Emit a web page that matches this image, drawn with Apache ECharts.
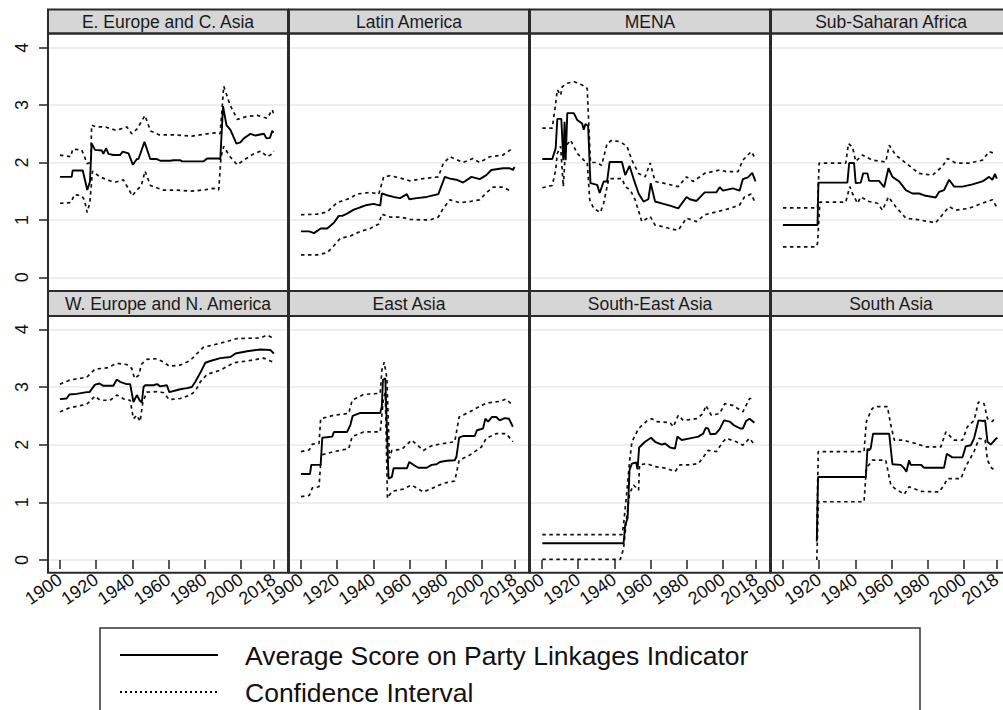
<!DOCTYPE html>
<html>
<head>
<meta charset="utf-8">
<script src="https://cdn.jsdelivr.net/npm/echarts@6/dist/echarts.min.js"></script>
<style>
html,body{margin:0;padding:0;background:#fff;overflow:hidden;}
#chart{width:1012px;height:710px;}
</style>
</head>
<body>
<div id="chart"></div>
<script>
const regions = ['E. Europe and C. Asia','Latin America','MENA','Sub-Saharan Africa','W. Europe and N. America','East Asia','South-East Asia','South Asia'];
const xTicks = [1900,1920,1940,1960,1980,2000,2018];
const yTicks = [0,1,2,3,4];
const legendNames = ['Average Score on Party Linkages Indicator','Confidence Interval'];

// E. Europe and C. Asia
const eeMean = [[1900,1.75],[1906.5,1.75],[1907,1.86],[1912.6,1.86],[1915.1,1.52],[1916.6,1.67],[1917.5,2.33],[1919.4,2.22],[1923.1,2.21],[1924,2.15],[1925.5,2.25],[1926.8,2.15],[1929.5,2.13],[1933.2,2.13],[1934.7,2.19],[1937.9,2.16],[1940.3,1.96],[1942.5,2.06],[1943.4,2.06],[1946.7,2.36],[1949.9,2.06],[1953.6,2.06],[1955.4,2.03],[1960.9,2.03],[1962.8,2.04],[1966.5,2.04],[1967.4,2.02],[1979.4,2.02],[1981.3,2.07],[1987.7,2.07],[1988.6,2.06],[1990.1,2.98],[1992,2.65],[1994.2,2.57],[1997.5,2.33],[1999.7,2.35],[2001.6,2.42],[2005.3,2.5],[2008,2.47],[2012.7,2.5],[2014.1,2.42],[2016,2.43],[2017.3,2.55],[2018,2.52]];
const eeUpper = [[1900,2.13],[1906,2.1],[1907,2.23],[1912,2.22],[1913,2.15],[1915,1.98],[1917,2.0],[1917.5,2.65],[1920,2.62],[1925,2.62],[1931,2.56],[1937,2.62],[1939.7,2.5],[1942.5,2.58],[1947,2.82],[1950,2.55],[1955,2.48],[1964,2.48],[1973,2.46],[1981,2.5],[1987,2.52],[1988.5,2.5],[1990.5,3.33],[1994,3.0],[1998,2.75],[2003,2.8],[2009,2.82],[2014.5,2.77],[2017.3,2.92],[2018,2.85]];
const eeLower = [[1900,1.29],[1906,1.3],[1908,1.44],[1912,1.42],[1913.5,1.35],[1915,1.13],[1916.5,1.3],[1918,1.85],[1922,1.75],[1927.7,1.68],[1931,1.66],[1935,1.7],[1940,1.42],[1942.5,1.52],[1945,1.6],[1947,1.85],[1950,1.6],[1957,1.52],[1964,1.52],[1972,1.5],[1979,1.52],[1985,1.55],[1987.7,1.52],[1989,2.1],[1990.5,2.28],[1994,2.1],[1998,1.96],[2002,2.05],[2007,2.15],[2011,2.2],[2014.5,2.1],[2017.3,2.15],[2018,2.2]];

// Latin America
const laMean = [[1900,0.8],[1904.5,0.8],[1907.2,0.77],[1910.9,0.85],[1914.5,0.85],[1918.2,0.95],[1920.9,1.07],[1922.8,1.07],[1925.5,1.11],[1929.2,1.18],[1932.8,1.22],[1936.5,1.26],[1940.2,1.28],[1943.8,1.25],[1944.7,1.46],[1947.5,1.43],[1951.2,1.4],[1954.8,1.38],[1958.5,1.45],[1959.9,1.36],[1964,1.38],[1969.5,1.4],[1975.9,1.45],[1979.5,1.75],[1982.3,1.72],[1985.9,1.7],[1989.6,1.65],[1994.2,1.75],[1998.8,1.71],[2002.4,1.78],[2005.2,1.87],[2011.6,1.9],[2015.3,1.9],[2017.1,1.87],[2018,1.92]];
const laUpper = [[1900,1.09],[1909,1.1],[1914.5,1.14],[1920,1.3],[1927.3,1.38],[1931,1.45],[1938.3,1.48],[1943,1.45],[1945.7,1.75],[1949.3,1.77],[1954.8,1.73],[1960.3,1.68],[1967.6,1.72],[1975.9,1.75],[1978.6,1.98],[1982.3,2.1],[1989.6,2.0],[1995,2.07],[1998.7,2.0],[2004.3,2.1],[2011.6,2.13],[2017.1,2.25]];
const laLower = [[1900,0.39],[1909,0.39],[1914.5,0.43],[1918.2,0.55],[1921.8,0.68],[1927.3,0.72],[1932.8,0.8],[1938.3,0.85],[1943,0.93],[1944.7,1.1],[1949.3,1.05],[1954.8,1.05],[1960.3,1.01],[1965.8,1.0],[1971.3,1.0],[1975.9,1.05],[1978.6,1.2],[1982.3,1.35],[1987.8,1.3],[1993.3,1.32],[1998.7,1.35],[2002.4,1.47],[2006.1,1.57],[2011.6,1.57],[2016.2,1.5]];

// MENA
const menaMean = [[1900.2,2.06],[1905.7,2.06],[1907.6,2.25],[1908.5,2.76],[1910.7,2.76],[1911.8,2.04],[1912.5,2.71],[1913.1,2.04],[1914,2.86],[1917.6,2.86],[1919.5,2.74],[1922.2,2.68],[1923.1,2.57],[1924,2.67],[1925.5,2.64],[1926.8,1.64],[1930.5,1.61],[1931.9,1.47],[1934.1,1.67],[1936,1.67],[1937.4,2.01],[1944.2,2.01],[1946,1.78],[1948.4,1.94],[1950.6,1.72],[1953.4,1.46],[1956.1,1.32],[1958.8,1.36],[1960.1,1.64],[1962.5,1.32],[1967.1,1.28],[1970.7,1.25],[1975.3,1.2],[1979.9,1.4],[1981.7,1.36],[1985.4,1.33],[1989.9,1.48],[1996.4,1.48],[1998.2,1.57],[2000,1.51],[2005.5,1.55],[2009.2,1.51],[2011,1.71],[2013.8,1.74],[2016.2,1.82],[2018,1.67]];
const menaUpper = [[1900.2,2.6],[1905.7,2.6],[1907.6,3.03],[1908.5,3.27],[1910.3,3.17],[1911.2,3.32],[1914,3.38],[1917.6,3.41],[1922.2,3.35],[1925,3.29],[1926.8,2.0],[1930,2.0],[1933,1.95],[1936,2.33],[1938.7,2.39],[1943.3,2.36],[1947,2.28],[1949.7,2.04],[1953.4,1.81],[1957,1.75],[1959.8,1.99],[1962.5,1.67],[1967.1,1.64],[1975.3,1.58],[1979.9,1.75],[1983.6,1.67],[1989.9,1.81],[1998.2,1.87],[2001.9,1.84],[2008.3,1.84],[2011,2.04],[2015.6,2.19],[2018,2.07]];
const menaLower = [[1900.2,1.56],[1905.7,1.6],[1907.6,1.87],[1908.5,2.16],[1910.3,2.28],[1911.8,1.58],[1913.1,2.28],[1915.8,2.39],[1919.5,2.16],[1923.1,2.04],[1925,2.01],[1926.4,1.35],[1928.6,1.2],[1932.3,1.13],[1934.1,1.29],[1936.9,1.72],[1944.2,1.72],[1946,1.58],[1948.8,1.52],[1951.5,1.35],[1955.2,0.97],[1959.8,1.06],[1962.5,0.91],[1967.1,0.88],[1971.6,0.84],[1975.3,0.82],[1979.9,1.03],[1985.4,0.97],[1989.9,1.09],[1996.4,1.14],[2003.7,1.2],[2009.2,1.26],[2011.9,1.4],[2015.6,1.45],[2018,1.29]];

// Sub-Saharan Africa
const ssaMean = [[1900,0.91],[1919.1,0.91],[1919.6,1.65],[1935.6,1.65],[1936.6,1.99],[1939.3,1.99],[1940.2,1.64],[1943,1.65],[1944.3,1.81],[1946.7,1.81],[1947.6,1.68],[1953.1,1.68],[1955.9,1.57],[1958.3,1.9],[1960.5,1.75],[1964.2,1.67],[1967.9,1.52],[1971.5,1.46],[1975.2,1.46],[1978.9,1.42],[1984.4,1.39],[1986.3,1.49],[1989,1.52],[1991.8,1.7],[1994.6,1.58],[1999.2,1.58],[2004.7,1.62],[2010.2,1.67],[2013.9,1.75],[2015.7,1.7],[2017.2,1.8],[2018.1,1.72]];
const ssaUpper = [[1900,1.21],[1919.1,1.21],[1920,1.99],[1934.7,1.99],[1936.2,2.33],[1938.4,2.27],[1940.2,2.02],[1943.9,2.13],[1949.4,2.04],[1956.8,2.01],[1958.7,2.3],[1962.3,2.13],[1967.9,1.99],[1975.2,1.81],[1982.6,1.78],[1988.1,1.93],[1990.9,2.07],[1995.5,1.99],[2002.8,1.99],[2010.2,2.04],[2013.9,2.19],[2017.6,2.15]];
const ssaLower = [[1900,0.53],[1918.2,0.53],[1919.1,0.59],[1920.4,1.31],[1934.7,1.31],[1936.9,1.58],[1938.4,1.46],[1941.2,1.29],[1943,1.4],[1947.6,1.32],[1952.2,1.29],[1955,1.17],[1958.3,1.4],[1962.3,1.23],[1967.9,1.03],[1975.2,1.0],[1984.4,0.95],[1988.1,1.09],[1991.8,1.23],[1995.5,1.17],[2002.8,1.2],[2010.2,1.29],[2015.7,1.35],[2018,1.23]];

// W. Europe and N. America
const weMean = [[1900,2.79],[1903.7,2.8],[1905.2,2.87],[1909.2,2.88],[1914.8,2.91],[1916.3,2.91],[1919.4,3.04],[1921.8,3.06],[1924,3.02],[1929.5,3.02],[1931.4,3.13],[1933.2,3.09],[1936.9,3.05],[1938.8,3.05],[1940.6,2.74],[1942.5,2.86],[1944,2.77],[1945.2,2.73],[1946.2,3.0],[1947.1,3.03],[1951.7,3.03],[1953.6,3.05],[1955.4,3.01],[1959.1,3.03],[1960.4,2.91],[1962.8,2.93],[1966.5,2.96],[1970.2,2.98],[1972.9,3.0],[1974.8,3.09],[1977.6,3.25],[1980.3,3.42],[1983.1,3.45],[1988.6,3.5],[1994.2,3.52],[1997,3.58],[2003.4,3.62],[2010.8,3.65],[2016.3,3.64],[2018.2,3.58]];
const weUpper = [[1900,3.05],[1905.5,3.12],[1914.8,3.17],[1919.4,3.31],[1925.9,3.33],[1931.4,3.41],[1936.9,3.39],[1939.7,3.32],[1941.2,3.15],[1943.4,3.2],[1945.2,3.4],[1948,3.48],[1953.6,3.49],[1957.3,3.43],[1960.4,3.36],[1966.5,3.38],[1972,3.46],[1975.7,3.58],[1979.4,3.69],[1984.9,3.73],[1992.3,3.79],[1997.8,3.84],[2010.8,3.85],[2014.5,3.9],[2018.2,3.84]];
const weLower = [[1900,2.57],[1905.5,2.64],[1914.8,2.7],[1919.4,2.84],[1922.2,2.77],[1927.7,2.77],[1931.4,2.86],[1936,2.78],[1938.8,2.77],[1940.6,2.45],[1942.5,2.51],[1944.3,2.4],[1945.8,2.74],[1948,2.91],[1953.6,2.92],[1957.3,2.9],[1960.4,2.78],[1966.5,2.8],[1972,2.86],[1974.8,2.93],[1977.6,3.09],[1981.3,3.22],[1988.6,3.29],[1996,3.42],[2003.4,3.45],[2012.6,3.5],[2016.3,3.45],[2018.2,3.43]];

// East Asia
const eaMean = [[1900,1.49],[1905,1.49],[1905.7,1.65],[1910.9,1.65],[1911.8,2.12],[1917.3,2.14],[1918.2,2.22],[1925.5,2.22],[1927.3,2.34],[1928.6,2.5],[1932.8,2.55],[1943.8,2.55],[1944.7,2.66],[1945.3,3.12],[1946.6,3.15],[1948.4,1.41],[1950.2,1.44],[1951.2,1.59],[1958.5,1.59],[1959.9,1.7],[1962.1,1.65],[1964.9,1.6],[1969.5,1.6],[1972.2,1.65],[1974.9,1.66],[1976.8,1.7],[1980.5,1.72],[1985,1.73],[1985.9,1.79],[1987.4,2.12],[1989.6,2.15],[1996,2.15],[1997.3,2.25],[2000.6,2.28],[2001.9,2.45],[2003.4,2.4],[2005.6,2.48],[2007.9,2.48],[2009.8,2.42],[2012.5,2.46],[2014.9,2.45],[2017.1,2.31]];
const eaUpper = [[1900,1.88],[1904.6,1.91],[1906.3,2.01],[1910,2.02],[1910.9,2.45],[1918.2,2.51],[1926.4,2.54],[1928.3,2.77],[1934.6,2.87],[1943.8,2.89],[1944.7,3.29],[1946,3.43],[1947.5,3.15],[1948.9,1.76],[1950.2,1.9],[1955.7,1.92],[1961.2,2.08],[1967.6,1.9],[1972.2,1.98],[1978.6,2.02],[1985,2.05],[1987.4,2.48],[1993.3,2.57],[1999.7,2.68],[2002.4,2.72],[2009.8,2.75],[2013.4,2.79],[2017.1,2.68]];
const eaLower = [[1900,1.1],[1904.6,1.12],[1906.3,1.25],[1910,1.27],[1911.2,1.82],[1918.2,1.88],[1926.4,1.93],[1928.3,2.14],[1934.6,2.22],[1943.8,2.22],[1945.6,2.8],[1946.6,2.9],[1947.8,1.07],[1950.2,1.19],[1956.6,1.23],[1961.2,1.3],[1967.6,1.18],[1973.1,1.25],[1978.6,1.33],[1985,1.37],[1987.4,1.73],[1993.3,1.82],[1999.7,1.96],[2002.4,2.11],[2007.9,2.19],[2013.4,2.19],[2017.1,2.05]];

// South-East Asia
const seaMean = [[1900.2,0.29],[1945.1,0.29],[1946,0.61],[1947.3,0.72],[1948.4,1.56],[1949.7,1.67],[1952.1,1.69],[1952.8,1.57],[1953.7,1.95],[1957,2.05],[1960.3,2.12],[1962.5,2.05],[1966.2,2.0],[1968,2.02],[1970.8,1.95],[1973.5,1.93],[1974.8,2.14],[1977.2,2.08],[1981.8,2.11],[1986.4,2.14],[1989.1,2.19],[1990.5,2.29],[1991.8,2.28],[1993.1,2.18],[1996.1,2.19],[1998.2,2.27],[2000.6,2.42],[2003.7,2.4],[2005.9,2.34],[2009.6,2.28],[2011,2.28],[2012.8,2.41],[2014.7,2.45],[2017.4,2.38]];
const seaUpper = [[1900.2,0.44],[1944.2,0.44],[1945.1,0.61],[1946.9,1.18],[1948.4,1.7],[1949.7,2.05],[1953.4,2.28],[1957.9,2.41],[1960.7,2.45],[1963.4,2.4],[1970.8,2.38],[1972.6,2.31],[1975.3,2.51],[1978.1,2.42],[1985.4,2.45],[1989.1,2.54],[1990.5,2.68],[1993.6,2.51],[1998.2,2.54],[2001,2.71],[2005.5,2.68],[2011,2.57],[2014.7,2.8],[2017.4,2.8]];
const seaLower = [[1900.2,0.01],[1943.3,0.01],[1945.1,0.2],[1947,0.78],[1948.4,1.15],[1950.6,1.3],[1952.4,1.24],[1953.4,1.21],[1953.9,1.65],[1957.9,1.67],[1962.5,1.62],[1968.9,1.59],[1973.5,1.53],[1976.3,1.65],[1981.8,1.65],[1986.4,1.67],[1990,1.82],[1991.8,1.9],[1996.4,1.88],[2000,2.05],[2001.9,2.11],[2007.4,2.05],[2011,1.99],[2014.7,2.11],[2017.4,2.0]];

// South Asia
const saMean = [[1918.7,0.32],[1919.4,1.44],[1945.8,1.44],[1946.7,1.93],[1947.6,1.9],[1948.5,1.94],[1949.8,2.19],[1958.7,2.19],[1960.5,1.66],[1965.1,1.65],[1967,1.59],[1968.2,1.53],[1969.7,1.73],[1970.6,1.65],[1976.2,1.65],[1978,1.6],[1989,1.6],[1990.5,1.84],[1993.6,1.78],[1999.2,1.78],[2001,1.97],[2003.8,1.99],[2005.6,2.11],[2008,2.42],[2010.6,2.41],[2011.7,2.42],[2013,2.05],[2014.8,2.0],[2017.6,2.1],[2018.5,2.12]];
const saUpper = [[1918.7,0.5],[1919.5,1.88],[1944.8,1.88],[1946.1,2.4],[1947.6,2.51],[1949.4,2.63],[1952.2,2.66],[1957.7,2.66],[1959.6,2.34],[1961.5,2.08],[1966,2.08],[1969.7,2.05],[1973.4,2.02],[1978.9,1.96],[1987.2,1.96],[1990,2.22],[1994.6,2.08],[1999.2,2.08],[2001.9,2.31],[2005.6,2.42],[2008,2.74],[2011.1,2.71],[2013,2.45],[2015.7,2.4],[2017.6,2.48]];
const saLower = [[1918.7,0],[1919.6,1.01],[1944.8,1.01],[1946.1,1.59],[1949.4,1.73],[1956.8,1.73],[1959.6,1.3],[1962.3,1.23],[1967,1.14],[1969.7,1.27],[1976.2,1.19],[1986.3,1.18],[1989,1.3],[1990.9,1.41],[1998.3,1.41],[2001,1.62],[2005.6,1.88],[2008.4,2.11],[2011.7,2.08],[2013,1.73],[2015.4,1.59],[2016.7,1.57]];

const panelMeans  = [eeMean, laMean, menaMean, ssaMean, weMean, eaMean, seaMean, saMean];
const panelUppers = [eeUpper, laUpper, menaUpper, ssaUpper, weUpper, eaUpper, seaUpper, saUpper];
const panelLowers = [eeLower, laLower, menaLower, ssaLower, weLower, eaLower, seaLower, saLower];

// ---- layout ----
const FONT = 'Liberation Sans, Arial, Helvetica, sans-serif';
const colLeft = c => 48 + 241 * c;
const panelW = 240;
const rows = [
  {stripTop: 9.5, frameTop: 33.5, frameBottom: 291, gridTop: 47.7, gridH: 229.6},
  {stripTop: 291, frameTop: 316, frameBottom: 572.7, gridTop: 329.3, gridH: 230.7}
];
const dash = [3.5, 3.5];

const grids = [], xAxes = [], yAxes = [], series = [], graphics = [];
for (let i = 0; i < 8; i++) {
  const r = Math.floor(i / 4), c = i % 4;
  const R = rows[r];
  grids.push({left: colLeft(c), width: panelW, top: R.gridTop, height: R.gridH, containLabel: false});
  xAxes.push({
    gridIndex: i, type: 'value', min: 1893.4, max: 2026,
    axisLine: {show: false},
    splitLine: {show: false},
    offset: R.frameBottom - (R.gridTop + R.gridH),
    axisTick: {show: r === 1, customValues: xTicks, length: 9, lineStyle: {color: '#222', width: 1.5}},
    axisLabel: {show: r === 1, customValues: xTicks, rotate: 35, margin: 5, fontSize: 18, color: '#111', fontFamily: FONT, formatter: v => String(Math.round(v))}
  });
  yAxes.push({
    gridIndex: i, type: 'value', min: 0, max: 4, interval: 1,
    axisLine: {show: false},
    axisTick: {show: c === 0, length: 9, lineStyle: {color: '#222', width: 1.5}},
    axisLabel: {show: c === 0, rotate: 90, margin: 17, fontSize: 18, color: '#111', fontFamily: FONT, formatter: v => yTicks.includes(v) ? String(v) : ''},
    splitLine: {show: true, lineStyle: {color: '#e8e8e8', width: 1.5}}
  });
  series.push({
    name: legendNames[1], type: 'line', xAxisIndex: i, yAxisIndex: i, data: panelUppers[i],
    symbol: 'none', showSymbol: false, lineStyle: {color: '#111', width: 1.7, type: dash}, z: 3
  });
  series.push({
    name: legendNames[1], type: 'line', xAxisIndex: i, yAxisIndex: i, data: panelLowers[i],
    symbol: 'none', showSymbol: false, lineStyle: {color: '#111', width: 1.7, type: dash}, z: 3
  });
  series.push({
    name: legendNames[0], type: 'line', xAxisIndex: i, yAxisIndex: i, data: panelMeans[i],
    symbol: 'none', showSymbol: false, lineStyle: {color: '#000', width: 1.9}, z: 4
  });
  // strip header
  graphics.push({
    type: 'rect', z: 50,
    shape: {x: colLeft(c), y: R.stripTop, width: panelW, height: R.frameTop - R.stripTop},
    style: {fill: '#d6d6d6', stroke: '#2a2a2a', lineWidth: 2}
  });
  graphics.push({
    type: 'text', z: 51,
    x: colLeft(c) + panelW / 2, y: (R.stripTop + R.frameTop) / 2 + 0.5,
    style: {text: regions[i], fill: '#1a1a1a', font: '17.5px ' + FONT, textAlign: 'center', textVerticalAlign: 'middle'}
  });
  // frame
  graphics.push({
    type: 'rect', z: 50,
    shape: {x: colLeft(c), y: R.frameTop, width: panelW, height: R.frameBottom - R.frameTop},
    style: {fill: 'none', stroke: '#2a2a2a', lineWidth: 2}
  });
}
// legend box and keys
graphics.push({
  type: 'rect', z: 40,
  shape: {x: 100, y: 628, width: 820, height: 120},
  style: {fill: 'none', stroke: '#333', lineWidth: 1.5}
});
graphics.push({
  type: 'line', z: 41,
  shape: {x1: 120, y1: 655, x2: 218, y2: 655},
  style: {stroke: '#000', lineWidth: 2}
});
graphics.push({
  type: 'line', z: 41,
  shape: {x1: 120, y1: 692, x2: 218, y2: 692},
  style: {stroke: '#000', lineWidth: 1.8, lineDash: [2, 3]}
});
graphics.push({
  type: 'text', z: 41, x: 245, y: 656,
  style: {text: legendNames[0], fill: '#111', font: '26.5px ' + FONT, textAlign: 'left', textVerticalAlign: 'middle'}
});
graphics.push({
  type: 'text', z: 41, x: 245, y: 693,
  style: {text: legendNames[1], fill: '#111', font: '26.5px ' + FONT, textAlign: 'left', textVerticalAlign: 'middle'}
});

const chart = echarts.init(document.getElementById('chart'), null, {renderer: 'svg'});
chart.setOption({
  animation: false,
  backgroundColor: '#fff',
  grid: grids,
  xAxis: xAxes,
  yAxis: yAxes,
  series: series,
  graphic: graphics
});
</script>
</body>
</html>
